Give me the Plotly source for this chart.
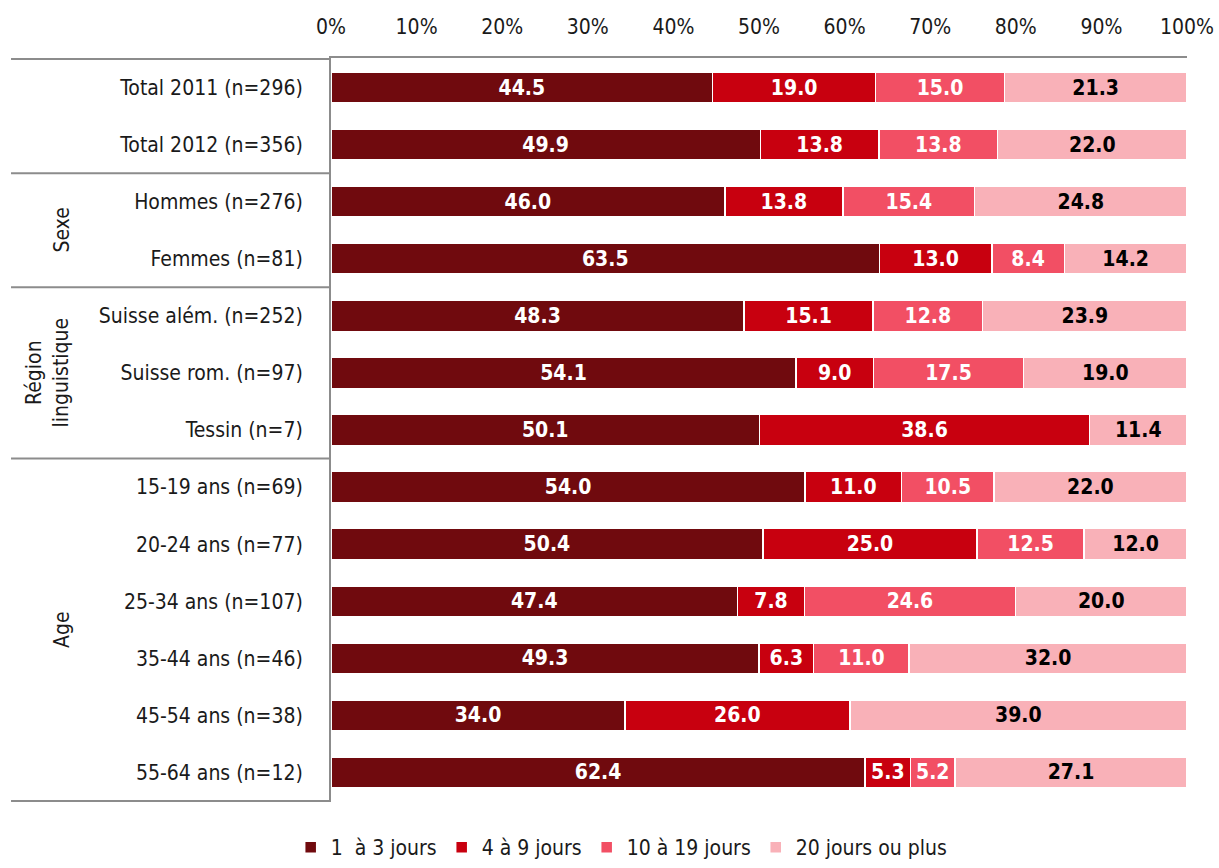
import plotly.graph_objects as go

# Row labels (top to bottom)
categories = [
    "Total 2011 (n=296)", "Total 2012 (n=356)",
    "Hommes (n=276)", "Femmes (n=81)",
    "Suisse além. (n=252)", "Suisse rom. (n=97)", "Tessin (n=7)",
    "15-19 ans (n=69)", "20-24 ans (n=77)", "25-34 ans (n=107)",
    "35-44 ans (n=46)", "45-54 ans (n=38)", "55-64 ans (n=12)",
]

# Share of respondents per duration class (%)
jours_1_3 = [44.5, 49.9, 46.0, 63.5, 48.3, 54.1, 50.1, 54.0, 50.4, 47.4, 49.3, 34.0, 62.4]
jours_4_9 = [19.0, 13.8, 13.8, 13.0, 15.1, 9.0, 38.6, 11.0, 25.0, 7.8, 6.3, 26.0, 5.3]
jours_10_19 = [15.0, 13.8, 15.4, 8.4, 12.8, 17.5, None, 10.5, 12.5, 24.6, 11.0, None, 5.2]
jours_20_plus = [21.3, 22.0, 24.8, 14.2, 23.9, 19.0, 11.4, 22.0, 12.0, 20.0, 32.0, 39.0, 27.1]

series_names = ["1\u00a0 à 3 jours", "4 à 9 jours", "10 à 19 jours", "20 jours ou plus"]
series_values = [jours_1_3, jours_4_9, jours_10_19, jours_20_plus]
series_colors = ["#700A0E", "#C8000F", "#F24F64", "#F9B1B8"]
label_colors = ["white", "white", "white", "black"]

# Groups shown in the left-hand header column: (label, first row, last row, x position)
groups = [("Sexe", 2, 3, -0.314), ("Région<br>linguistique", 4, 6, -0.331), ("Age", 7, 12, -0.314)]
group_breaks = [-0.5, 1.5, 3.5, 6.5, 12.5]

FONT = "Liberation Sans Narrow, Arial Narrow, DejaVu Sans Condensed, sans-serif"

fig = go.Figure()
for name, vals, color, tcol in zip(series_names, series_values, series_colors, label_colors):
    fig.add_trace(go.Bar(
        y=categories,
        x=vals,
        name=name,
        orientation="h",
        marker=dict(color=color, line=dict(color="white", width=1.5)),
        text=[f"{v:.1f}" if v is not None else "" for v in vals],
        textposition="inside",
        insidetextanchor="middle",
        textangle=0,
        insidetextfont=dict(family=FONT, size=21, color=tcol, weight="bold"),
        hoverinfo="skip",
    ))

shapes = []
# horizontal separators across the label column
for b in group_breaks:
    shapes.append(dict(type="line", xref="paper", yref="y",
                       x0=-0.3738, x1=0, y0=b, y1=b,
                       line=dict(color="#8C8C8C", width=2)))

annotations = []
for text, i0, i1, xpos in groups:
    annotations.append(dict(
        text=text, xref="paper", yref="y",
        x=xpos, y=(i0 + i1) / 2, xanchor="center", yanchor="middle",
        textangle=-90, showarrow=False,
        font=dict(family=FONT, size=21, color="#1a1a1a"),
    ))

fig.update_layout(
    barmode="stack",
    barnorm="percent",
    bargap=0.46,
    width=1219, height=868,
    margin=dict(l=331, r=32, t=58, b=66),
    plot_bgcolor="white",
    paper_bgcolor="white",
    font=dict(family=FONT, size=21, color="#1a1a1a"),
    xaxis=dict(
        side="top", range=[0, 100], dtick=10, ticksuffix="%",
        showgrid=False, zeroline=False, automargin=False,
        showline=True, linecolor="#8C8C8C", linewidth=2,
        ticks="", ticklabelstandoff=14,
        tickfont=dict(family=FONT, size=21, color="#1a1a1a"),
    ),
    yaxis=dict(
        autorange="reversed", showgrid=False, zeroline=False, automargin=False,
        showline=True, linecolor="#8C8C8C", linewidth=2,
        ticks="", ticklabelstandoff=22,
        tickfont=dict(family=FONT, size=21, color="#1a1a1a"),
    ),
    legend=dict(
        orientation="h", xref="container", x=0.51, xanchor="center",
        yref="container", y=0.0, yanchor="bottom",
        font=dict(family=FONT, size=21, color="#1a1a1a"),
        itemwidth=30, traceorder="normal",
    ),
    uniformtext=dict(mode="show", minsize=21),
    shapes=shapes,
    annotations=annotations,
    showlegend=True,
)

fig.write_html("out.html")
